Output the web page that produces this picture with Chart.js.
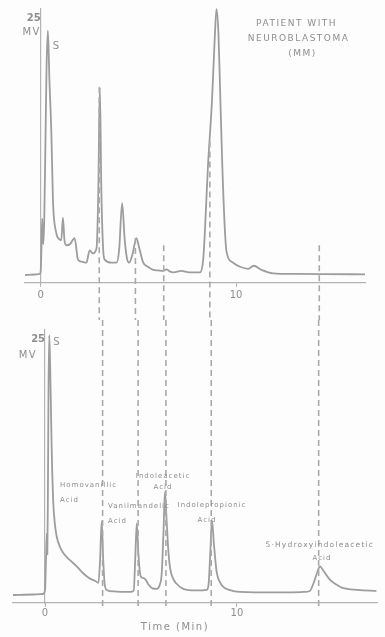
<!DOCTYPE html>
<html>
<head>
<meta charset="utf-8">
<script src="https://cdn.jsdelivr.net/npm/chart.js@4"></script>
<style>
	html, body { margin: 0; padding: 0; background: #fdfdfd; }
	canvas { display: block; }
</style>
</head>
<body>
<canvas id="patientChart" width="385" height="320"></canvas>
<canvas id="standardChart" width="385" height="317"></canvas>
<script>
// retention times (min) of the standards, shared by both traces
const retentionTimes = [3.0, 4.85, 6.3, 8.66, 14.26];
// level (mV) where each dashed marker starts on the patient trace
const patientMarkerStart = [18.3, 3.6, 2.9, 13, 2.9];

const timeTicks = [0, 10];
const signalTicks = [25];

// patient with neuroblastoma: [time (min), signal (mV)]
const patientTrace = [
	[-0.8, 0], [-0.3, 0.05], [-0.05, 0.1], [0.0, 0.3], [0.04, 2.5], [0.08, 5.5], [0.13, 3.0],
	[0.18, 5.0], [0.24, 12], [0.3, 20], [0.37, 23.8], [0.45, 19], [0.55, 13.8], [0.63, 7.3],
	[0.8, 4.1], [0.95, 3.5], [1.06, 3.4], [1.14, 5.6], [1.22, 3.4], [1.32, 2.9], [1.5, 3.0],
	[1.74, 3.6], [1.91, 1.5], [2.1, 1.3], [2.34, 1.2], [2.51, 2.4], [2.68, 2.1], [2.86, 2.6],
	[2.95, 8], [3.03, 18.3], [3.11, 8], [3.2, 2.5], [3.28, 1.5], [3.62, 1.2], [3.88, 1.2],
	[4.02, 2.5], [4.17, 7.0], [4.3, 3.5], [4.42, 1.6], [4.53, 1.2], [4.7, 2.0], [4.9, 3.6],
	[5.05, 2.6], [5.25, 1.2], [5.5, 0.8], [5.76, 0.5], [6.0, 0.45], [6.27, 0.4], [6.45, 0.55],
	[6.6, 0.35], [6.8, 0.25], [7.2, 0.4], [7.6, 0.25], [8.15, 0.25], [8.32, 1.5], [8.4, 4],
	[8.56, 10.5], [8.77, 17], [8.92, 23.5], [9.0, 25.9], [9.1, 23.5], [9.2, 17], [9.3, 10.5],
	[9.44, 4], [9.52, 2.2], [9.85, 1.2], [10.2, 0.8], [10.63, 0.6], [10.9, 0.9], [11.3, 0.5],
	[11.9, 0.16], [13.0, 0.1], [14.5, 0.08], [16.6, 0.07]
];

// standard mixture: [time (min), signal (mV)]
const standardTrace = [
	[-1.67, 0], [-0.6, 0.05], [-0.1, 0.1], [0.0, 0.5], [0.05, 3.5], [0.09, 6], [0.12, 4],
	[0.15, 10], [0.18, 20], [0.22, 25.4], [0.27, 22], [0.31, 18], [0.35, 13.9], [0.43, 9.0],
	[0.52, 6.8], [0.61, 5.7], [0.78, 4.7], [0.95, 4.1], [1.3, 3.4], [1.65, 2.8], [2.0, 2.1],
	[2.34, 1.6], [2.6, 1.4], [2.78, 1.2], [2.87, 3.5], [2.95, 7.2], [3.03, 3.5], [3.1, 1.2],
	[3.21, 0.5], [3.6, 0.35], [4.43, 0.3], [4.62, 0.4], [4.7, 3.5], [4.78, 7.0], [4.86, 4.2],
	[4.95, 2.1], [5.05, 1.7], [5.2, 1.6], [5.4, 1.0], [5.6, 0.65], [5.82, 0.6], [5.98, 1.0],
	[6.08, 2.1], [6.17, 6], [6.25, 10.1], [6.33, 7.5], [6.42, 4.5], [6.52, 2.6], [6.7, 1.5],
	[6.86, 1.1], [7.1, 0.7], [7.38, 0.5], [8.0, 0.45], [8.42, 0.5], [8.52, 1.0], [8.62, 4.5],
	[8.7, 7.3], [8.8, 5.0], [8.94, 2.3], [9.1, 1.3], [9.29, 0.8], [9.6, 0.5], [10.16, 0.3],
	[12.0, 0.25], [13.5, 0.3], [13.8, 0.4], [14.0, 1.2], [14.2, 2.3], [14.33, 2.8], [14.5, 2.4],
	[14.84, 1.5], [15.2, 1.0], [15.5, 0.7], [16.3, 0.5], [17.27, 0.4]
];

// text notes: [text, time, signal, align]
const patientNotes = [
	["PATIENT WITH", 13.1, 24.5, "center"],
	["NEUROBLASTOMA", 13.2, 23.0, "center"],
	["(MM)", 13.4, 21.55, "center"],
	["MV", -0.46, 23.6, "center"],
	["S", 0.82, 22.3, "center"]
];
const standardNotes = [
	["MV", -0.89, 23.4, "center"],
	["S", 0.63, 24.7, "center"],
	["Homovanillic", 0.78, 10.7, "left"],
	["Acid", 0.78, 9.3, "left"],
	["Vanilmandelic", 3.28, 8.7, "left"],
	["Acid", 3.28, 7.2, "left"],
	["Indoleacetic", 6.15, 11.6, "center"],
	["Acid", 6.15, 10.5, "center"],
	["Indolepropionic", 8.7, 8.8, "center"],
	["Acid", 8.44, 7.3, "center"],
	["5·Hydroxyindoleacetic", 14.32, 4.9, "center"],
	["Acid", 14.43, 3.6, "center"],
	["Time (Min)", 6.77, -3.2, "center"]
];

const INK = "#8e8e8e";
const TRACE = "#9d9d9d";
const AXIS = "#b4b4b4";
const DASH = "#a9a9a9";

function noteFont(text) {
	if (text === "Time (Min)" || text === "MV" || text === "S")
		return ["10px 'DejaVu Sans'", "1.5px"];
	if (text === text.toUpperCase() && text.length > 2)
		return ["9px 'DejaVu Sans'", "1.5px"];
	if (text.startsWith("5"))
		return ["7.5px 'DejaVu Sans'", "1.2px"];
	return ["7px 'DejaVu Sans'", "1px"];
}

const markerPlugin = {
	id: "markers",
	afterDatasetsDraw(chart, args, opts) {
		const ctx = chart.ctx;
		const xs = chart.scales.x;
		const ys = chart.scales.y;
		ctx.save();
		ctx.strokeStyle = DASH;
		ctx.lineWidth = 1.6;
		ctx.setLineDash([6, 4]);
		retentionTimes.forEach((t, i) => {
			const x = xs.getPixelForValue(t);
			let y0, y1;
			if (opts.starts) {
				y0 = ys.getPixelForValue(opts.starts[i]);
				y1 = chart.height;
			} else {
				y0 = 0;
				y1 = chart.chartArea.bottom + 7;
			}
			ctx.beginPath();
			ctx.moveTo(x, y0);
			ctx.lineTo(x, y1);
			ctx.stroke();
		});
		ctx.restore();

		ctx.save();
		ctx.fillStyle = INK;
		ctx.textBaseline = "middle";
		opts.notes.forEach(([text, t, v, align]) => {
			const [font, spacing] = noteFont(text);
			ctx.font = font;
			ctx.letterSpacing = spacing;
			ctx.textAlign = align;
			ctx.fillText(text, xs.getPixelForValue(t), ys.getPixelForValue(v));
		});
		ctx.restore();
	}
};

function makeChart(id, trace, xMin, xMax, yMin, yMax, padding, xHeight, labelPad, markerOpts) {
	const canvas = document.getElementById(id);
	return new Chart(canvas.getContext("2d"), {
		type: "line",
		data: {
			datasets: [{
				data: trace.map(([t, v]) => ({ x: t, y: v })),
				borderColor: TRACE,
				borderWidth: 1.8,
				pointRadius: 0,
				cubicInterpolationMode: "monotone",
				fill: false,
				clip: false
			}]
		},
		options: {
			responsive: false,
			animation: false,
			devicePixelRatio: 1,
			layout: { padding: padding },
			plugins: {
				legend: { display: false },
				tooltip: { enabled: false },
				markers: markerOpts
			},
			scales: {
				x: {
					type: "linear",
					min: xMin,
					max: xMax,
					afterBuildTicks: (axis) => { axis.ticks = timeTicks.map((v) => ({ value: v })); },
					afterFit: (axis) => { axis.height = xHeight; },
					grid: { display: true, drawOnChartArea: false, tickLength: 4, color: AXIS },
					border: { display: true, color: AXIS, width: 1.2 },
					ticks: { color: INK, padding: labelPad, font: { family: "DejaVu Sans", size: 10 } }
				},
				y: {
					type: "linear",
					position: { x: 0 },
					min: yMin,
					max: yMax,
					afterBuildTicks: (axis) => { axis.ticks = signalTicks.map((v) => ({ value: v })); },
					grid: { display: false },
					border: { display: true, color: AXIS, width: 1.2 },
					ticks: { color: INK, padding: 3, font: { family: "DejaVu Sans", size: 10, weight: "bold" } }
				}
			}
		},
		plugins: [markerPlugin]
	});
}

makeChart("patientChart", patientTrace, -0.8, 16.6, -0.78, 25.92,
	{ left: 25, right: 20, top: 0, bottom: 0 }, 37, 2,
	{ starts: patientMarkerStart, notes: patientNotes });

makeChart("standardChart", standardTrace, -1.67, 17.3, -0.78, 25.9,
	{ left: 13, right: 8, top: 10, bottom: 0 }, 34, 0,
	{ starts: null, notes: standardNotes });
</script>
</body>
</html>
